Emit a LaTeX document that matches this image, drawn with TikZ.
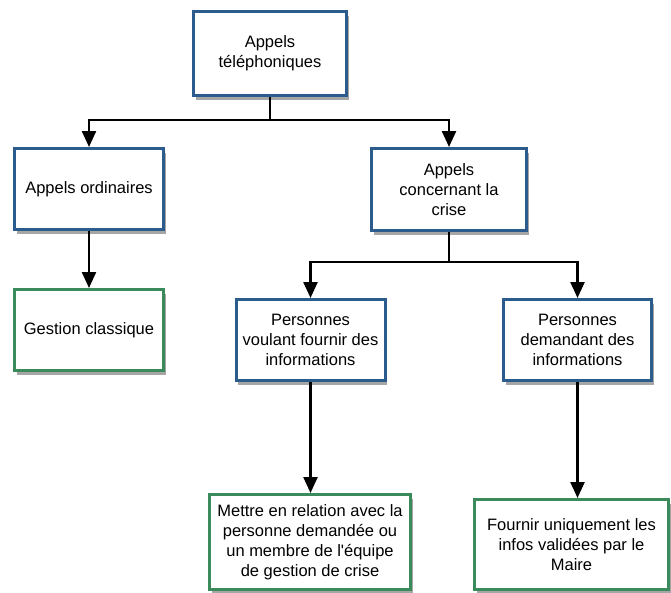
\documentclass[tikz,border=0pt]{standalone}
\usepackage{fontspec}
\setmainfont{Liberation Sans}[Ligatures=TeXOff]
\usetikzlibrary{arrows.meta,shadows}
\definecolor{bblue}{HTML}{2C5B8E}
\definecolor{bgreen}{HTML}{3A8A5C}
\tikzset{
  box/.style={draw, line width=3pt, fill=white, align=center, inner sep=2pt,
    font=\fontsize{16.5pt}{20pt}\selectfont,
    drop shadow={shadow xshift=2pt, shadow yshift=-4pt, fill=black, opacity=0.35}},
  bbox/.style={box, draw=bblue},
  gbox/.style={box, draw=bgreen},
  arr/.style={line width=2.4pt, -{Triangle[width=14pt,length=16pt]}}
}
\begin{document}
\begin{tikzpicture}[x=1pt,y=-1pt]
\useasboundingbox (0,0) rectangle (671,592);
\node[bbox, minimum width=153pt, minimum height=84pt] (A) at (270,53.5) {Appels\\téléphoniques};
\node[bbox, minimum width=149pt, minimum height=81pt] (B) at (89,189) {Appels ordinaires};
\node[bbox, minimum width=155pt, minimum height=82pt] (C) at (449,189.5) {Appels\\concernant la\\crise};
\node[gbox, minimum width=149pt, minimum height=81pt] (D) at (89,330) {Gestion classique};
\node[bbox, minimum width=149pt, minimum height=81pt] (E) at (310.5,340) {Personnes\\voulant fournir des\\informations};
\node[bbox, minimum width=148pt, minimum height=81pt] (F) at (577.5,340) {Personnes\\demandant des\\informations};
\node[gbox, minimum width=201pt, minimum height=95pt] (G) at (310,542) {Mettre en relation avec la\\personne demandée ou\\un membre de l'équipe\\de gestion de crise};
\node[gbox, minimum width=194pt, minimum height=90pt] (H) at (571.5,544.5) {Fournir uniquement les\\infos validées par le\\Maire};
\draw[arr] (A.south) -- ++(0,23) -| (B.north);
\draw[arr] (A.south) -- ++(0,23) -| (C.north);
\draw[arr] (C.south) -- ++(0,30) -| (E.north);
\draw[arr] (C.south) -- ++(0,30) -| (F.north);
\draw[arr] (B.south) -- (B.south |- D.north);
\draw[arr] (E.south) -- (E.south |- G.north);
\draw[arr] (F.south) -- (F.south |- H.north);
\end{tikzpicture}
\end{document}
